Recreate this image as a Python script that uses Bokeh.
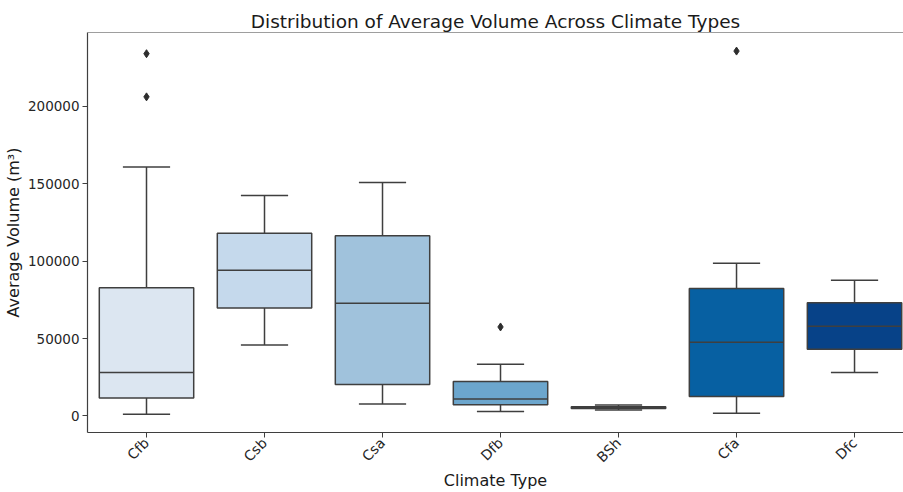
from bokeh.plotting import figure
from bokeh.models import ColumnDataSource, FixedTicker, Span, Range1d
from bokeh.embed import file_html
from bokeh.resources import INLINE
import math

categories = ["Cfb", "Csb", "Csa", "Dfb", "BSh", "Cfa", "Dfc"]
whisker_low = [1100, 45900, 7700, 2800, 3800, 1700, 28100]
q1 = [11600, 69700, 20400, 7300, 4800, 12500, 43100]
median = [28100, 94100, 72900, 10900, 5400, 47600, 57900]
q3 = [82800, 118100, 116400, 22300, 6000, 82300, 73100]
whisker_high = [160800, 142400, 150900, 33400, 7000, 98600, 87700]
outlier_cat = ["Cfb", "Cfb", "Dfb", "Cfa"]
outlier_val = [234100, 206200, 57500, 235800]
colors = ["#dce6f1", "#c5d9ec", "#a0c2dc", "#6ca6cd", "#3a7fb9", "#0760a2", "#074288"]

y_ticks = [0, 50000, 100000, 150000, 200000]
y_start, y_end = -10700, 247800

idx = list(range(len(categories)))
src = ColumnDataSource(dict(
    x=idx, lo=whisker_low, q1=q1, med=median, q3=q3, hi=whisker_high, color=colors,
    left=[i - 0.4 for i in idx], right=[i + 0.4 for i in idx],
    cl=[i - 0.2 for i in idx], cr=[i + 0.2 for i in idx],
))
osrc = ColumnDataSource(dict(x=[categories.index(c) for c in outlier_cat], y=outlier_val))

font = "DejaVu Sans"
edge = "#3f3f3f"

p = figure(width=903, height=492, output_backend="svg", toolbar_location=None,
           x_range=Range1d(-0.5, 6.415), y_range=Range1d(y_start, y_end),
           min_border_left=87, min_border_right=0, min_border_top=32, min_border_bottom=0,
           title="Distribution of Average Volume Across Climate Types")
p.title.align = "center"
p.title.text_font = font
p.title.text_font_size = "18.5px"
p.title.text_font_style = "normal"
p.title.text_color = "#1a1a1a"
p.title.offset = 0
p.title.standoff = 2

# whiskers
p.segment(x0="x", y0="lo", x1="x", y1="q1", source=src, line_color=edge, line_width=1.5)
p.segment(x0="x", y0="q3", x1="x", y1="hi", source=src, line_color=edge, line_width=1.5)
p.segment(x0="cl", y0="lo", x1="cr", y1="lo", source=src, line_color=edge, line_width=1.5)
p.segment(x0="cl", y0="hi", x1="cr", y1="hi", source=src, line_color=edge, line_width=1.5)
# boxes
p.quad(left="left", right="right", bottom="q1", top="q3", source=src,
       fill_color="color", line_color=edge, line_width=1.5)
p.segment(x0="left", y0="med", x1="right", y1="med", source=src, line_color=edge, line_width=1.5)
# outliers
p.scatter(x="x", y="y", source=osrc, marker="diamond", size=8, fill_color="#2e2e2e",
          line_color="#2e2e2e")

p.add_layout(Span(location=y_end, dimension="width", line_color=edge, line_width=1.2))

p.xgrid.visible = False
p.ygrid.visible = False
p.outline_line_color = None

p.xaxis.ticker = FixedTicker(ticks=idx)
p.xaxis.major_label_overrides = {i: c for i, c in zip(idx, categories)}
p.xaxis.major_label_orientation = math.pi / 4
p.yaxis.ticker = FixedTicker(ticks=y_ticks)
p.yaxis.formatter.use_scientific = False

for ax in (p.xaxis, p.yaxis):
    ax.major_label_text_font = font
    ax.major_label_text_font_size = "13.5px"
    ax.major_label_text_color = "#262626"
    ax.axis_label_text_font = font
    ax.axis_label_text_font_size = "16px"
    ax.axis_label_text_font_style = "normal"
    ax.axis_label_text_color = "#1a1a1a"
    ax.axis_line_color = edge
    ax.axis_line_width = 1.2
    ax.major_tick_line_color = edge
    ax.major_tick_out = 5
    ax.major_tick_in = 0
    ax.minor_tick_line_color = None

p.xaxis.major_label_text_font_size = "14px"
p.xaxis.major_label_standoff = 3
p.xaxis.axis_label_standoff = -3
p.yaxis.major_label_standoff = 3
p.yaxis.axis_label_standoff = 2

p.xaxis.axis_label = "Climate Type"
p.yaxis.axis_label = "Average Volume (m³)"

open("out.html", "w").write(file_html(p, INLINE))
